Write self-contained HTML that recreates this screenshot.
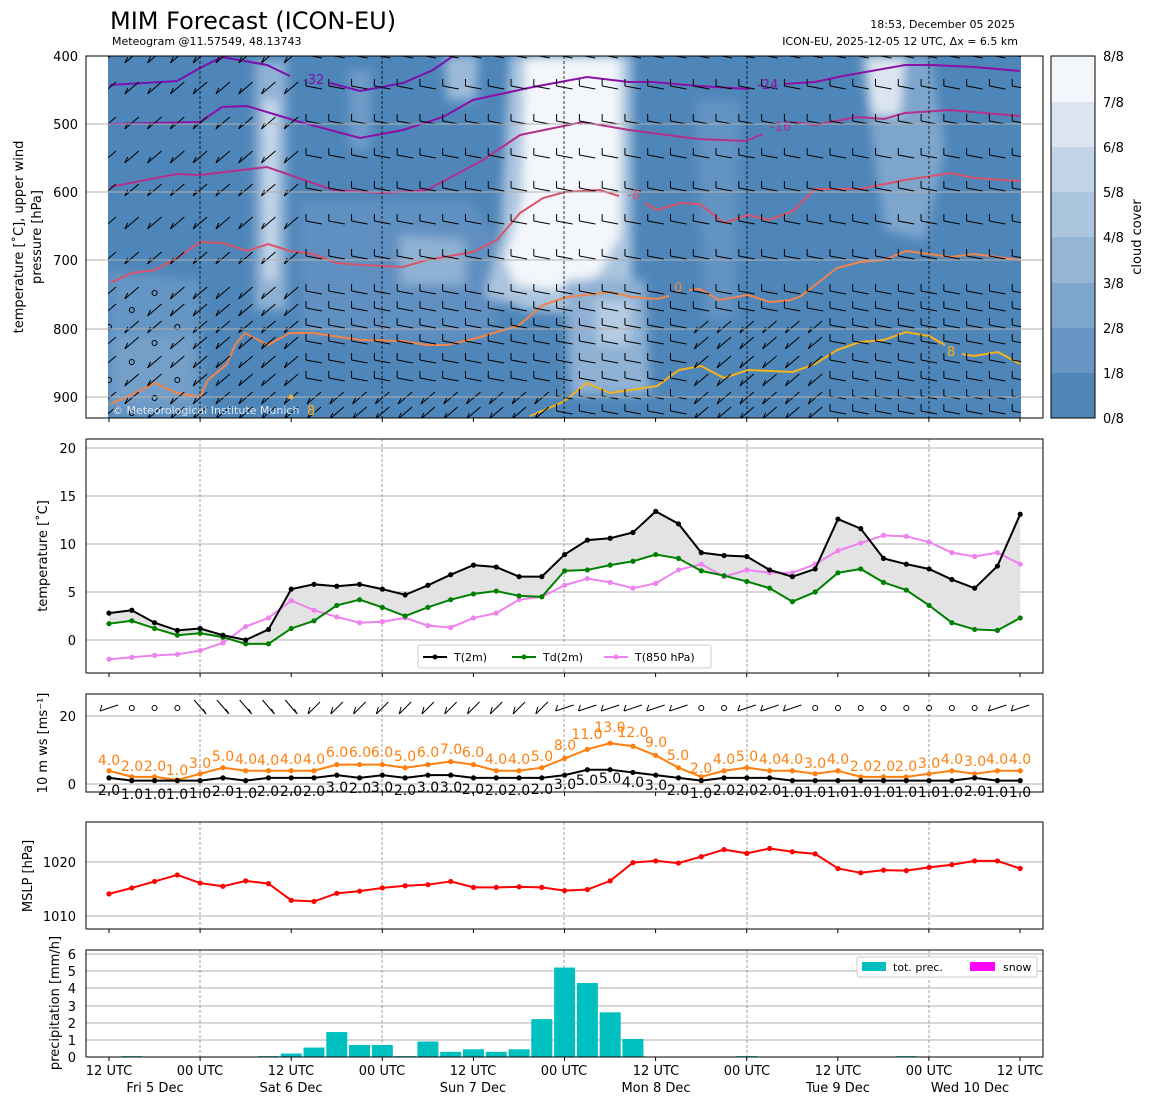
<!DOCTYPE html>
<html><head><meta charset="utf-8">
<style>
html,body{margin:0;padding:0;background:#fff;}
svg{display:block;font-family:"DejaVu Sans","Liberation Sans",sans-serif;}
</style></head><body>
<svg id="s" width="1155" height="1105" viewBox="0 0 1155 1105" xmlns="http://www.w3.org/2000/svg">
<defs>
<filter id="bl" x="-20%" y="-20%" width="140%" height="140%"><feGaussianBlur stdDeviation="5"/></filter>
<clipPath id="cp1"><rect x="108" y="56" width="913" height="362"/></clipPath>
</defs>
<rect width="1155" height="1105" fill="#fff"/>
<text x="110" y="29" font-size="24">MIM Forecast (ICON-EU)</text>
<text x="112" y="45" font-size="11">Meteogram @11.57549, 48.13743</text>
<text x="1015" y="28" font-size="11" text-anchor="end">18:53, December 05 2025</text>
<text x="1018" y="45" font-size="11" text-anchor="end">ICON-EU, 2025-12-05 12 UTC, Δx = 6.5 km</text>

<g clip-path="url(#cp1)">
<rect x="108" y="56" width="913" height="362" fill="#4f86b9"/>
<g filter="url(#bl)">
 <polygon points="108,270 200,280 205,418 108,418" fill="#6e9bc7" opacity="0.7"/>
 <polygon points="300,200 470,200 510,260 490,340 300,340" fill="#6090c1"/>
 <polygon points="400,235 465,240 465,285 400,285" fill="#8fb1d4"/>
 <polygon points="255,60 287,60 287,310 255,310" fill="#8fb1d4"/>
 <polygon points="263,100 278,100 276,280 265,280" fill="#c9d9ea"/>
 <polygon points="348,70 372,70 370,150 350,150" fill="#6e9bc7"/>
 <polygon points="445,56 478,56 476,100 447,100" fill="#9dbbd9"/>
 <polygon points="510,56 632,56 632,290 600,315 525,310 485,295 500,240" fill="#abc5df"/>
 <polygon points="525,56 620,56 620,235 598,275 555,290 515,285 505,260 522,200" fill="#f3f7fb"/>
 <polygon points="565,280 645,280 650,395 570,395" fill="#8fb1d4"/>
 <polygon points="595,300 632,300 630,345 598,345" fill="#b5cce3"/>
 <polygon points="695,100 740,100 735,320 705,320" fill="#6493c2"/>
 <polygon points="860,56 930,56 945,150 925,240 885,230" fill="#7ea6cd"/>
 <polygon points="866,56 905,56 900,115 872,115" fill="#dbe5f0"/>
 <polygon points="110,335 195,335 195,405 110,405" fill="#7ea6cd" opacity="0.6"/>
</g>
<g id="isot" fill="none" stroke-width="2"></g>
<g id="barbs" stroke="#000" stroke-width="1" fill="none"></g>
<text x="112" y="414" font-size="11" fill="#dde6ef">© Meteorological Institute Munich</text>
<text x="303" y="84" font-size="13" fill="#7b10b0">-32</text>
<text x="757" y="89" font-size="13" fill="#8b10a8">-24</text>
<text x="770" y="131" font-size="13" fill="#b5308c">-16</text>
<text x="627" y="199" font-size="13" fill="#d9546a">-8</text>
<text x="674" y="292" font-size="13" fill="#f0844a">0</text>
<text x="947" y="356" font-size="13" fill="#f4b21b">8</text>
<text x="307" y="415" font-size="13" fill="#f4b21b">8</text>
<circle cx="291" cy="397" r="2.5" fill="#f4b21b"/>
</g>
<g id="topgrid" stroke="#b0b0b0" stroke-width="1"></g>
<rect x="86" y="56" width="957" height="362" fill="none" stroke="#000" stroke-width="1"/>
<g font-size="13" text-anchor="end">
<text x="78" y="61">400</text><text x="78" y="129">500</text><text x="78" y="197">600</text>
<text x="78" y="265">700</text><text x="78" y="334">800</text><text x="78" y="402">900</text>
</g>
<text transform="translate(23,237) rotate(-90)" font-size="13" text-anchor="middle">temperature [˚C], upper wind</text>
<text transform="translate(41,237) rotate(-90)" font-size="13" text-anchor="middle">pressure [hPa]</text>
<g>
<rect x="1051" y="373" width="44" height="45" fill="#4f86b9"/>
<rect x="1051" y="328" width="44" height="45" fill="#6896c4"/>
<rect x="1051" y="283" width="44" height="45" fill="#7ea6cd"/>
<rect x="1051" y="237" width="44" height="46" fill="#95b6d6"/>
<rect x="1051" y="192" width="44" height="45" fill="#abc5df"/>
<rect x="1051" y="147" width="44" height="45" fill="#c2d5e8"/>
<rect x="1051" y="102" width="44" height="45" fill="#dbe5f0"/>
<rect x="1051" y="56" width="44" height="46" fill="#f3f7fb"/>
<rect x="1051" y="56" width="44" height="362" fill="none" stroke="#000"/>
</g>
<g font-size="13">
<text x="1103" y="423">0/8</text><text x="1103" y="378">1/8</text><text x="1103" y="333">2/8</text>
<text x="1103" y="288">3/8</text><text x="1103" y="242">4/8</text><text x="1103" y="197">5/8</text>
<text x="1103" y="152">6/8</text><text x="1103" y="107">7/8</text><text x="1103" y="61">8/8</text>
</g>
<text transform="translate(1141,237) rotate(-90)" font-size="13" text-anchor="middle">cloud cover</text>

<g id="p2grid" stroke="#b0b0b0" stroke-width="1"></g>
<g id="p2"></g>
<rect x="86" y="439" width="957" height="234" fill="none" stroke="#000"/>
<g font-size="13" text-anchor="end">
<text x="76" y="645">0</text><text x="76" y="597">5</text><text x="76" y="549">10</text>
<text x="76" y="501">15</text><text x="76" y="453">20</text>
</g>
<text transform="translate(47,556) rotate(-90)" font-size="13" text-anchor="middle">temperature [˚C]</text>
<g>
<rect x="418" y="645" width="293" height="23" fill="#fff" stroke="#ccc" rx="2"/>
<line x1="423" y1="657" x2="447" y2="657" stroke="#000" stroke-width="2"/><circle cx="435" cy="657" r="2.5"/>
<text x="454" y="661" font-size="11">T(2m)</text>
<line x1="512" y1="657" x2="536" y2="657" stroke="#008000" stroke-width="2"/><circle cx="524" cy="657" r="2.5" fill="#008000"/>
<text x="543" y="661" font-size="11">Td(2m)</text>
<line x1="604" y1="657" x2="628" y2="657" stroke="#ee82ee" stroke-width="2"/><circle cx="616" cy="657" r="2.5" fill="#ee82ee"/>
<text x="635" y="661" font-size="11">T(850 hPa)</text>
</g>

<g id="p3grid" stroke="#b0b0b0" stroke-width="1"></g>
<g id="p3"></g>
<rect x="86" y="694" width="957" height="98" fill="none" stroke="#000"/>
<g font-size="13" text-anchor="end"><text x="76" y="789">0</text><text x="76" y="721">20</text></g>
<text transform="translate(47,743) rotate(-90)" font-size="13" text-anchor="middle">10 m ws [ms⁻¹]</text>
<g font-size="14" fill="#ff7f0e" text-anchor="middle">
<text x="109" y="765">4.0</text><text x="132" y="771">2.0</text><text x="155" y="771">2.0</text><text x="177" y="775">1.0</text>
<text x="200" y="768">3.0</text><text x="223" y="761">5.0</text><text x="246" y="764">4.0</text><text x="268" y="765">4.0</text>
<text x="291" y="764">4.0</text><text x="314" y="764">4.0</text><text x="337" y="757">6.0</text><text x="360" y="757">6.0</text>
<text x="382" y="757">6.0</text><text x="405" y="761">5.0</text><text x="428" y="757">6.0</text><text x="451" y="754">7.0</text>
<text x="473" y="757">6.0</text><text x="496" y="764">4.0</text><text x="519" y="764">4.0</text><text x="542" y="761">5.0</text>
<text x="565" y="750">8.0</text><text x="587" y="739">11.0</text><text x="610" y="732">13.0</text><text x="633" y="737">12.0</text>
<text x="656" y="747">9.0</text><text x="678" y="760">5.0</text><text x="701" y="773">2.0</text><text x="724" y="764">4.0</text>
<text x="747" y="761">5.0</text><text x="770" y="764">4.0</text><text x="792" y="764">4.0</text><text x="815" y="768">3.0</text>
<text x="838" y="764">4.0</text><text x="861" y="771">2.0</text><text x="884" y="771">2.0</text><text x="906" y="771">2.0</text>
<text x="929" y="768">3.0</text><text x="952" y="764">4.0</text><text x="975" y="766">3.0</text><text x="997" y="764">4.0</text>
<text x="1020" y="764">4.0</text>
</g>
<g font-size="14" fill="#000" text-anchor="middle">
<text x="109" y="795">2.0</text><text x="132" y="799">1.0</text><text x="155" y="799">1.0</text><text x="177" y="799">1.0</text>
<text x="200" y="798">1.0</text><text x="223" y="796">2.0</text><text x="246" y="798">1.0</text><text x="268" y="796">2.0</text>
<text x="291" y="796">2.0</text><text x="314" y="796">2.0</text><text x="337" y="792">3.0</text><text x="360" y="793">2.0</text>
<text x="382" y="792">3.0</text><text x="405" y="795">2.0</text><text x="428" y="792">3.0</text><text x="451" y="792">3.0</text>
<text x="473" y="794">2.0</text><text x="496" y="795">2.0</text><text x="519" y="795">2.0</text><text x="542" y="794">2.0</text>
<text x="565" y="789">3.0</text><text x="587" y="785">5.0</text><text x="610" y="783">5.0</text><text x="633" y="787">4.0</text>
<text x="656" y="790">3.0</text><text x="678" y="795">2.0</text><text x="701" y="798">1.0</text><text x="724" y="795">2.0</text>
<text x="747" y="795">2.0</text><text x="770" y="795">2.0</text><text x="792" y="797">1.0</text><text x="815" y="797">1.0</text>
<text x="838" y="797">1.0</text><text x="861" y="797">1.0</text><text x="884" y="797">1.0</text><text x="906" y="797">1.0</text>
<text x="929" y="797">1.0</text><text x="952" y="797">1.0</text><text x="975" y="796">2.0</text><text x="997" y="797">1.0</text>
<text x="1020" y="797">1.0</text>
</g>

<g id="p4grid" stroke="#b0b0b0" stroke-width="1"></g>
<g id="p4"></g>
<rect x="86" y="822" width="957" height="107" fill="none" stroke="#000"/>
<g font-size="13" text-anchor="end"><text x="76" y="867">1020</text><text x="76" y="921">1010</text></g>
<text transform="translate(32,876) rotate(-90)" font-size="13" text-anchor="middle">MSLP [hPa]</text>

<g id="p5grid" stroke="#b0b0b0" stroke-width="1"></g>
<g id="p5"></g>
<rect x="86" y="950" width="957" height="107" fill="none" stroke="#000"/>
<g font-size="13" text-anchor="end">
<text x="76" y="1062">0</text><text x="76" y="1045">1</text><text x="76" y="1028">2</text><text x="76" y="1011">3</text>
<text x="76" y="993">4</text><text x="76" y="976">5</text><text x="76" y="959">6</text>
</g>
<text transform="translate(59,1003) rotate(-90)" font-size="13" text-anchor="middle">precipitation [mm/h]</text>
<g>
<rect x="857" y="957" width="180" height="20" fill="#fff" stroke="#ccc" rx="2"/>
<rect x="862" y="962" width="24" height="9" fill="#00bfbf"/>
<text x="893" y="971" font-size="11">tot. prec.</text>
<rect x="970" y="962" width="25" height="9" fill="#ff00ff"/>
<text x="1003" y="971" font-size="11">snow</text>
</g>
<g font-size="13" text-anchor="middle">
<text x="109" y="1075">12 UTC</text><text x="200" y="1075">00 UTC</text><text x="291" y="1075">12 UTC</text>
<text x="382" y="1075">00 UTC</text><text x="473" y="1075">12 UTC</text><text x="564" y="1075">00 UTC</text>
<text x="656" y="1075">12 UTC</text><text x="747" y="1075">00 UTC</text><text x="838" y="1075">12 UTC</text>
<text x="929" y="1075">00 UTC</text><text x="1020" y="1075">12 UTC</text>
<text x="155" y="1092">Fri 5 Dec</text><text x="291" y="1092">Sat 6 Dec</text><text x="473" y="1092">Sun 7 Dec</text>
<text x="656" y="1092">Mon 8 Dec</text><text x="838" y="1092">Tue 9 Dec</text><text x="970" y="1092">Wed 10 Dec</text>
</g>
<g id="ticks" stroke="#000"></g>
</svg>
<script>
(function(){
var NS="http://www.w3.org/2000/svg";
function el(p,t,a){var e=document.createElementNS(NS,t);for(var k in a)e.setAttribute(k,a[k]);document.getElementById(p).appendChild(e);return e;}
function X(i){return 109+22.78*i;}
var midn=[200,382,564,747,929];
[56,124,192,260,329,397].forEach(function(y){el("topgrid","line",{x1:86,x2:1043,y1:y,y2:y});});
midn.forEach(function(x){el("topgrid","line",{x1:x,x2:x,y1:56,y2:418,stroke:"#000","stroke-dasharray":"3,2","stroke-width":0.8});});
var iso=[
["#7b10b0","110,85 177,81 200,68 222,57 267,65 290,76"],
["#7b10b0","330,83 360,91 403,83 433,70 453,56"],
["#8b10a8","110,124 200,122 222,107 247,106 300,122 360,138 403,130 443,117 473,100 533,87 587,77 629,82 653,82 698,86 750,89"],
["#8b10a8","784,84 815,82 843,76 905,65 932,65 974,67 1020,71"],
["#b5308c","110,187 177,174 200,175 267,167 333,190 383,193 427,190 483,160 520,135 583,122 629,130 698,139 746,141 763,134"],
["#b5308c","794,122 815,125 857,117 884,119 905,113 950,110 1020,116"],
["#d9546a","110,283 132,273 155,270 177,258 200,242 223,243 247,251 268,244 290,251 313,254 337,263 363,265 403,267 427,260 473,252 497,240 520,213 543,198 565,192 600,190 619,196"],
["#d9546a","645,203 657,210 681,203 700,204 724,223 748,215 769,220 793,211 815,189 860,189 905,180 951,173 974,178 1020,181"],
["#f0844a","110,404 127,397 155,383 177,393 200,397 208,380 227,364 235,345 245,333 268,345 290,333 313,333 360,340 403,341 427,345 447,345 473,339 518,326 543,305 567,297 586,295 610,292 632,297 657,299 669,296"],
["#f0844a","689,290 700,289 719,300 748,295 770,302 791,300 801,296 837,268 860,262 884,260 906,251 929,254 951,257 974,254 1020,260"],
["#f4b21b","530,416 563,402 587,383 610,393 657,386 679,370 701,366 724,378 748,370 793,372 815,364 837,350 860,342 884,340 906,332 929,336 945,345"],
["#f4b21b","962,354 974,356 998,352 1020,364"]
];
iso.forEach(function(a){el("isot","polyline",{points:a[1],stroke:a[0]});});
var rows=[57,88,123,157,190,223,258,293,310,327,343,362,380,398,413];
for(var r=0;r<rows.length;r++){for(var i=0;i<41;i++){var x=X(i),y=rows[r];
 var d;
 if(x<200&&y>280&&(i+r)%3==0){el("barbs","circle",{cx:x,cy:y,r:2.5});continue;}
 if(x<300||(y>390&&x<560)||(x>700&&x<830&&y>320)){d="M"+(x-7)+","+(y+6)+" L"+(x+7)+","+(y-6)+" M"+(x-7)+","+(y+6)+" L"+(x-4)+","+(y);}
 else{d="M"+(x-8)+","+(y-2)+" L"+(x+8)+","+(y+1)+" M"+(x-8)+","+(y-2)+" L"+(x-8)+","+(y-9);}
 el("barbs","path",{d:d});}}
function grid(id,ys,y1,y2){ys.forEach(function(y){el(id,"line",{x1:86,x2:1043,y1:y,y2:y});});
 midn.forEach(function(x){el(id,"line",{x1:x,x2:x,y1:y1,y2:y2,"stroke-dasharray":"3,2","stroke-width":0.8,stroke:"#888"});});}
grid("p2grid",[640,592,544,496,448],439,673);
grid("p3grid",[784,716],694,792);
grid("p4grid",[862,916],822,929);
grid("p5grid",[1057,1040,1023,1006,988,971,954],950,1057);
var T=[2.8,3.1,1.8,1.0,1.2,0.5,0.0,1.1,5.3,5.8,5.6,5.8,5.3,4.7,5.7,6.8,7.8,7.6,6.6,6.6,8.9,10.4,10.6,11.2,13.4,12.1,9.1,8.8,8.7,7.3,6.6,7.4,12.6,11.6,8.5,7.9,7.4,6.3,5.4,7.7,13.1];
var Td=[1.7,2.0,1.2,0.5,0.7,0.3,-0.4,-0.4,1.2,2.0,3.6,4.2,3.4,2.5,3.4,4.2,4.8,5.1,4.6,4.5,7.2,7.3,7.8,8.2,8.9,8.5,7.2,6.7,6.1,5.4,4.0,5.0,7.0,7.4,6.0,5.2,3.6,1.8,1.1,1.0,2.3];
var T8=[-2.0,-1.8,-1.6,-1.5,-1.1,-0.3,1.4,2.3,4.1,3.1,2.4,1.8,1.9,2.3,1.5,1.3,2.3,2.8,4.2,4.5,5.7,6.4,6.0,5.4,5.9,7.3,7.9,6.6,7.3,7.0,7.0,7.9,9.3,10.1,10.9,10.8,10.2,9.1,8.7,9.1,7.9];
function y2(v){return 640-9.6*v;}
var fp=[];for(var i=0;i<41;i++)fp.push(X(i)+","+y2(T[i]));for(var i=40;i>=0;i--)fp.push(X(i)+","+y2(Td[i]));
el("p2","polygon",{points:fp.join(" "),fill:"#e3e3e3"});
function series(g,arr,f,c){var p=[];for(var i=0;i<arr.length;i++)p.push(X(i)+","+f(arr[i]));
 el(g,"polyline",{points:p.join(" "),fill:"none",stroke:c,"stroke-width":2});
 for(var i=0;i<arr.length;i++)el(g,"circle",{cx:X(i),cy:f(arr[i]),r:2.6,fill:c});}
series("p2",T8,y2,"#ee82ee");series("p2",Td,y2,"#008000");series("p2",T,y2,"#000");
var O=[4,2,2,1,3,5,4,4,4,4,6,6,6,5,6,7,6,4,4,5,8,11,13,12,9,5,2,4,5,4,4,3,4,2,2,2,3,4,3,4,4];
var B=[2,1,1,1,1,2,1,2,2,2,3,2,3,2,3,3,2,2,2,2,3,5,5,4,3,2,1,2,2,2,1,1,1,1,1,1,1,1,2,1,1];
function y3(v){return 784-3.4*v;}
series("p3",O.map(function(v){return v*0.9+0.3;}),y3,"#ff7f0e");
series("p3",B.map(function(v){return v*0.8+0.2;}),y3,"#000");
for(var i=0;i<41;i++){var x=X(i),y=708;
 if([1,2,3,35,36,37,38,31,32,33,34,26,27].indexOf(i)>=0){el("p3","circle",{cx:x,cy:y,r:2.5,fill:"none",stroke:"#000"});continue;}
 var d;
 if(i>=4&&i<=8)d="M"+(x-6)+","+(y-8)+" L"+(x+6)+","+(y+6)+" M"+(x+6)+","+(y+6)+" L"+(x+3)+","+(y+1);
 else if(i>=9&&i<=19)d="M"+(x-6)+","+(y+6)+" L"+(x+6)+","+(y-6)+" M"+(x-6)+","+(y+6)+" L"+(x-4)+","+(y-1);
 else d="M"+(x-9)+","+(y+3)+" L"+(x+9)+","+(y-3)+" M"+(x-9)+","+(y+3)+" L"+(x-7)+","+(y-3);
 el("p3","path",{d:d,stroke:"#000",fill:"none"});}
var P=[1014.1,1015.2,1016.4,1017.6,1016.1,1015.5,1016.5,1016.0,1012.9,1012.7,1014.2,1014.6,1015.2,1015.6,1015.8,1016.4,1015.3,1015.3,1015.4,1015.3,1014.7,1014.9,1016.5,1019.9,1020.2,1019.8,1021.0,1022.3,1021.6,1022.5,1021.9,1021.5,1018.8,1018.0,1018.5,1018.4,1019.0,1019.5,1020.2,1020.2,1018.8];
series("p4",P,function(v){return 862-(v-1020)*5.4;},"#ff0000");
var R={1:0.05,7:0.05,8:0.2,9:0.55,10:1.45,11:0.7,12:0.7,13:0.05,14:0.9,15:0.3,16:0.45,17:0.3,18:0.45,19:2.2,20:5.2,21:4.3,22:2.6,23:1.05,28:0.05,35:0.05};
for(var k in R){var x=X(+k),h=R[k]*17.2;el("p5","rect",{x:x-10.5,y:1057-h,width:21,height:h,fill:"#00bfbf"});}
[418,673,792,929,1057].forEach(function(yb){for(var j=0;j<11;j++){var x=109+91.1*j;el("ticks","line",{x1:x,x2:x,y1:yb,y2:yb+4});}});
})();
</script>
</body></html>
